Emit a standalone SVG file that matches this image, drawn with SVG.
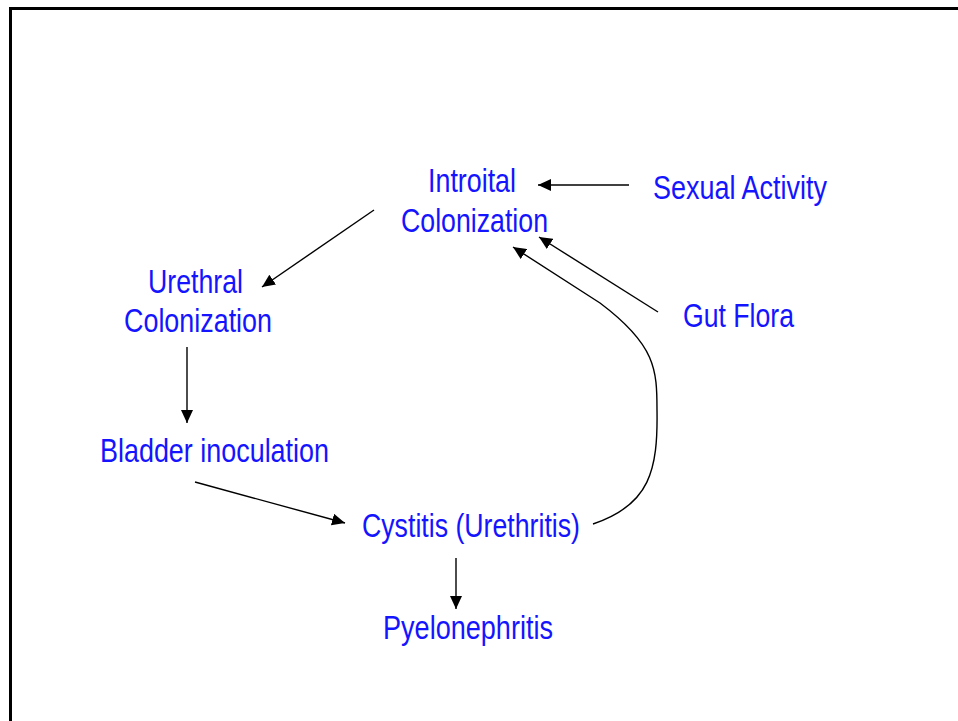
<svg xmlns="http://www.w3.org/2000/svg" width="958" height="721" viewBox="0 0 958 721">
<defs>
<marker id="ah" markerWidth="13" markerHeight="12" refX="13" refY="6" orient="auto" markerUnits="userSpaceOnUse">
<path d="M0,0 L13,6 L0,12 Z" fill="#000"/>
</marker>
<style>
.t{font-family:"Liberation Sans",Arial,sans-serif;font-size:34px;fill:#1414ff;}
.c{fill:none;stroke:#000;stroke-width:1.4;marker-end:url(#ah);}
</style>
</defs>
<rect x="0" y="0" width="958" height="721" fill="#fff"/>
<rect x="10.5" y="8.5" width="960" height="720" fill="none" stroke="#000" stroke-width="3"/>
<g id="connectors">
<line class="c" x1="629" y1="185" x2="538" y2="185"/>
<line class="c" x1="374" y1="210" x2="262" y2="287"/>
<line class="c" x1="187" y1="347" x2="187" y2="423"/>
<line class="c" x1="195" y1="482" x2="345" y2="523"/>
<line class="c" x1="456" y1="558" x2="456" y2="609"/>
<line class="c" x1="658" y1="312" x2="539" y2="237"/>
<path class="c" d="M593,524 C650,505 658,470 657,410 C657,370 656,345 600,303 L513,247"/>
</g>
<g id="introital"><text class="t" x="428" y="192" textLength="88" lengthAdjust="spacingAndGlyphs">Introital</text><text class="t" x="401" y="232" textLength="147" lengthAdjust="spacingAndGlyphs">Colonization</text></g>
<g id="sexual"><text class="t" x="653" y="199" textLength="174" lengthAdjust="spacingAndGlyphs">Sexual Activity</text></g>
<g id="gut"><text class="t" x="683" y="327" textLength="111" lengthAdjust="spacingAndGlyphs">Gut Flora</text></g>
<g id="urethral"><text class="t" x="148" y="293" textLength="95" lengthAdjust="spacingAndGlyphs">Urethral</text><text class="t" x="124" y="332" textLength="148" lengthAdjust="spacingAndGlyphs">Colonization</text></g>
<g id="bladder"><text class="t" x="100" y="462" textLength="229" lengthAdjust="spacingAndGlyphs">Bladder inoculation</text></g>
<g id="cystitis"><text class="t" x="362" y="537" textLength="218" lengthAdjust="spacingAndGlyphs">Cystitis (Urethritis)</text></g>
<g id="pyelo"><text class="t" x="383" y="639" textLength="170" lengthAdjust="spacingAndGlyphs">Pyelonephritis</text></g>
</svg>
